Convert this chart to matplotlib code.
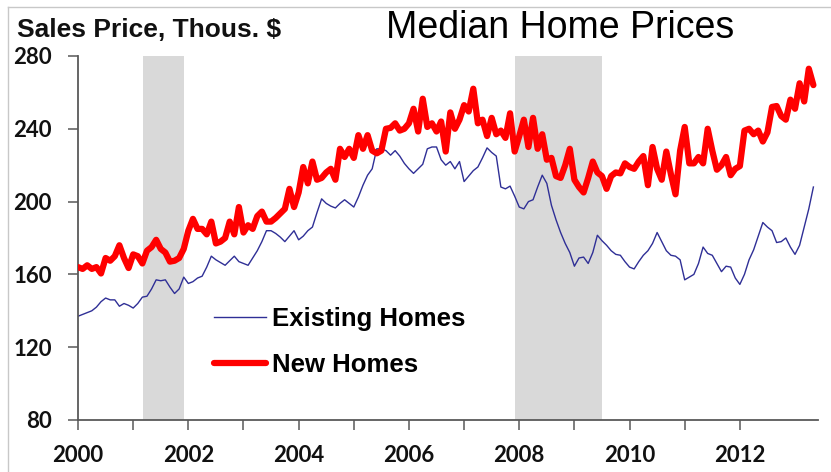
import matplotlib.pyplot as plt
from matplotlib.lines import Line2D
import numpy as np

# monthly values, Jan 2000 .. May 2013 (thous. $)
existing = [
    137, 138, 139, 140, 142, 145, 147, 146, 146, 142.5, 144, 143,          # 2000
    141.5, 144, 147.5, 148, 152, 157, 156.5, 157, 153, 149.5, 152, 158.5,  # 2001
    155, 156, 158, 159, 164, 170, 168, 166.5, 165, 167.5, 170, 167,        # 2002
    166, 165, 169, 173, 178, 184, 184, 182.5, 180.5, 178, 181, 184,        # 2003
    179, 181, 184, 186, 194, 201.5, 199, 197.5, 196.5, 199, 201, 199,      # 2004
    197, 202.5, 209, 214.5, 218, 229, 229, 228, 225.5, 228, 225, 221,      # 2005
    218, 215.5, 218, 220.5, 229, 230, 230, 223, 220, 222, 218, 222,        # 2006
    211, 214, 217, 219, 224, 229.5, 227, 225, 208, 207, 208.5, 203,        # 2007
    197, 196, 200, 201, 208, 214.5, 210, 198, 190, 183, 177, 172,          # 2008
    164.5, 169, 169.5, 166, 172, 181.5, 178.5, 176, 173, 171, 170.5, 167,  # 2009
    164, 163, 167, 170.5, 173, 177, 183, 178, 173, 170.5, 170, 168,        # 2010
    157, 158.5, 160, 166, 175, 171.5, 170.5, 166, 161.5, 164.5, 164, 158,  # 2011
    154.5, 160, 168, 173.5, 181, 188.5, 186, 184, 177.5, 178, 180, 175,    # 2012
    171, 176, 186, 196, 208,                                               # 2013
]
new = [
    164, 163, 165, 163, 164, 160.5, 169, 167.5, 170, 176, 169, 163.5,      # 2000
    171, 170, 166, 173, 175, 179, 174, 172, 167, 167.5, 169, 174,          # 2001
    184, 190.5, 185, 185, 182, 189, 177, 178, 180, 189, 182, 197,          # 2002
    183, 187, 185, 192, 194.5, 189, 189, 191, 193.5, 196, 207, 197,        # 2003
    205, 219, 210, 222, 212, 213, 216, 218, 212, 229, 224.5, 229,          # 2004
    224, 236.5, 229, 236.5, 228, 226.5, 228, 240, 240.5, 243, 239, 240,    # 2005
    243, 251, 238.5, 256.5, 241, 243, 238.5, 244, 227.5, 249, 240, 245,    # 2006
    253, 249.5, 262, 243, 245, 236, 246, 237, 239, 235, 248.5, 227.5,      # 2007
    236, 245, 230, 246, 229, 237, 223, 224, 214, 213, 220, 229,            # 2008
    212, 208, 205, 213, 222, 216, 214, 207, 214, 216, 215.5, 221,          # 2009
    219, 218, 222, 225, 209, 230, 218, 212, 227.5, 215, 204, 228,          # 2010
    241, 221, 221, 224.5, 221, 240, 228, 217.5, 220, 224.5, 214.5, 218,    # 2011
    219.5, 239, 240, 237, 239, 233, 238, 252, 252.5, 247, 245, 256,        # 2012
    251, 265, 255, 273, 264,                                               # 2013
]
recessions = [(2001.17, 2001.92), (2007.92, 2009.5)]
year_ticks = list(range(2000, 2013))
y_ticks = [80, 120, 160, 200, 240, 280]

t = 2000 + np.arange(len(existing)) / 12.0

fig = plt.figure(figsize=(8.31, 4.72), dpi=100)
ax = fig.add_axes([0.0939, 0.1102, 0.890, 0.7712])

for a, b in recessions:
    ax.axvspan(a, b, color='#d9d9d9', lw=0, zorder=0)

ax.plot(t, existing, color='#2f2f96', lw=1.0, label='Existing Homes', zorder=2)
ax.plot(t, new, color='#ff0000', lw=4.5, label='New Homes', zorder=3,
        solid_joinstyle='round', solid_capstyle='round')

ax.set_xlim(2000, 2013.41)
ax.set_ylim(80, 280)
ax.set_xticks(year_ticks)
ax.set_xticklabels([str(y) if y % 2 == 0 else '' for y in year_ticks])
ax.set_yticks(y_ticks)

for s in ['top', 'right']:
    ax.spines[s].set_visible(False)
for s in ['left', 'bottom']:
    ax.spines[s].set_color('#595959')
    ax.spines[s].set_linewidth(1.3)
ax.tick_params(axis='x', direction='out', length=7, width=1.1, color='#595959', pad=11)
ax.tick_params(axis='y', direction='out', length=7, width=1.1, color='#595959', pad=12)
for lab in ax.get_xticklabels() + ax.get_yticklabels():
    lab.set_family('Lato')
    lab.set_fontweight('bold')
    lab.set_fontsize(16)
    lab.set_color('#111111')

leg = ax.legend(loc='center left', bbox_to_anchor=(0.184, 0.215), frameon=False,
                borderpad=0, borderaxespad=0, handlelength=2.0, handletextpad=0.25,
                labelspacing=0.85,
                prop={'family': 'Liberation Sans', 'weight': 'bold', 'size': 18.5})

fig.text(17 / 831, 1 - 37 / 472, 'Sales Price, Thous. $', family='Liberation Sans',
         weight='bold', fontsize=19, va='baseline', ha='left', color='#111111')
fig.text(386 / 831, 1 - 38 / 472, 'Median Home Prices', family='Liberation Sans',
         fontsize=27, va='baseline', ha='left', color='black')

# light frame of the slide
fig.add_artist(Line2D([8 / 831, 1], [1 - 7 / 472, 1 - 7 / 472], color='#c8c8c8', lw=1))
fig.add_artist(Line2D([8 / 831, 8 / 831], [0, 1 - 7 / 472], color='#c8c8c8', lw=1))

fig.savefig('out.png', dpi=100)
